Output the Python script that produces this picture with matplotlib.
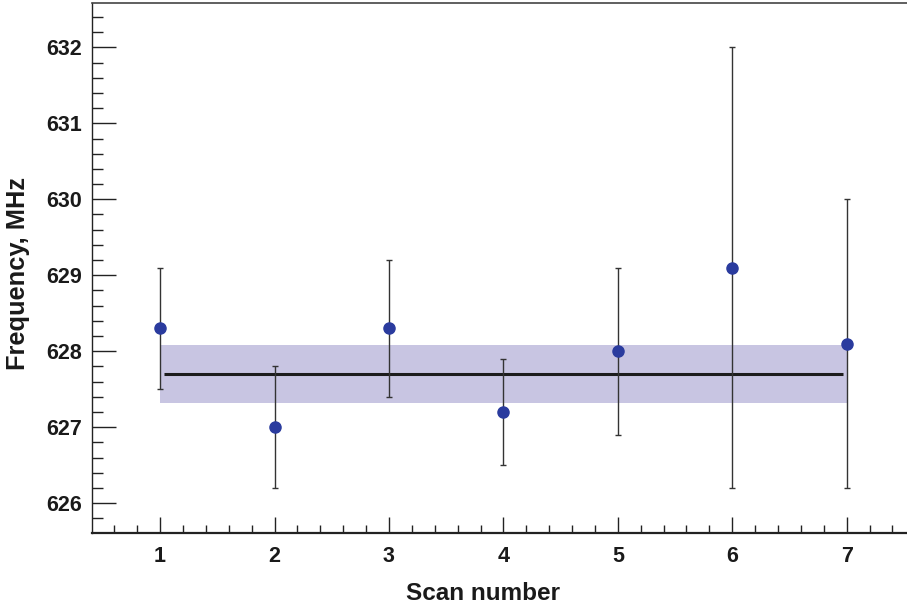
import numpy as np
import matplotlib
matplotlib.use("Agg")
import matplotlib.pyplot as plt
from matplotlib.ticker import MultipleLocator

plt.rcParams['font.family'] = ['Liberation Sans', 'DejaVu Sans']
plt.rcParams['font.weight'] = 'bold'

# measured frequency for each scan, with its error
scans = [1, 2, 3, 4, 5, 6, 7]
freq = [628.3, 627.0, 628.3, 627.2, 628.0, 629.1, 628.1]
freq_err = [0.8, 0.8, 0.9, 0.7, 1.1, 2.9, 1.9]

# constant fit over all scans
fit_value = 627.7
fit_err = 0.38

W, H = 907, 609
fig = plt.figure(figsize=(W / 100, H / 100), dpi=100)
ax = fig.add_axes([92 / W, 76 / H, (W - 92) / W, 530 / H])

# fit band and line
ax.fill_between([scans[0], scans[-1]], fit_value - fit_err, fit_value + fit_err,
                color='#c8c5e2', lw=0, zorder=1)
ax.plot([scans[0] + 0.03, scans[-1] - 0.03], [fit_value, fit_value],
        color='#1c1c1c', lw=2.2, solid_capstyle='butt', zorder=2)

# data points
ax.errorbar(scans, freq, yerr=freq_err, fmt='none', ecolor='#333333',
            elinewidth=1.0, capsize=2.2, capthick=1.0, zorder=3)
ax.plot(scans, freq, 'o', color='#2a3b9e', ms=8, mec='#2a3b9e', zorder=4)

ax.set_xlim(0.405, 7.527)
ax.set_ylim(625.609, 632.583)

ax.xaxis.set_major_locator(MultipleLocator(1))
ax.xaxis.set_minor_locator(MultipleLocator(0.2))
ax.yaxis.set_major_locator(MultipleLocator(1))
ax.yaxis.set_minor_locator(MultipleLocator(0.2))

ax.tick_params(axis='both', which='both', direction='in', top=False, right=False,
               colors='#222222', labelcolor='#1a1a1a', labelsize=15.5)
ax.tick_params(axis='y', which='major', length=17, width=1.0, pad=7)
ax.tick_params(axis='y', which='minor', length=8, width=1.0)
ax.tick_params(axis='x', which='major', length=11.5, width=1.0, pad=9)
ax.tick_params(axis='x', which='minor', length=6, width=1.0)
for lab in ax.get_xticklabels() + ax.get_yticklabels():
    lab.set_fontweight('bold')

ax.spines['right'].set_visible(False)
ax.spines['bottom'].set_linewidth(1.6)
ax.spines['bottom'].set_color('#222222')
ax.spines['top'].set_linewidth(1.2)
ax.spines['top'].set_color('#444444')
ax.spines['left'].set_linewidth(1.0)
ax.spines['left'].set_color('#222222')

fig.text(482.5 / W, 1 - 600.5 / H, 'Scan number', ha='center', va='baseline',
         fontsize=17.5, fontweight='bold', color='#1a1a1a')
fig.text(18 / W, 1 - 273.5 / H, 'Frequency, MHz', ha='center', va='center',
         rotation=90, fontsize=18.3, fontweight='bold', color='#1a1a1a')

fig.savefig('out.png', dpi=100)
